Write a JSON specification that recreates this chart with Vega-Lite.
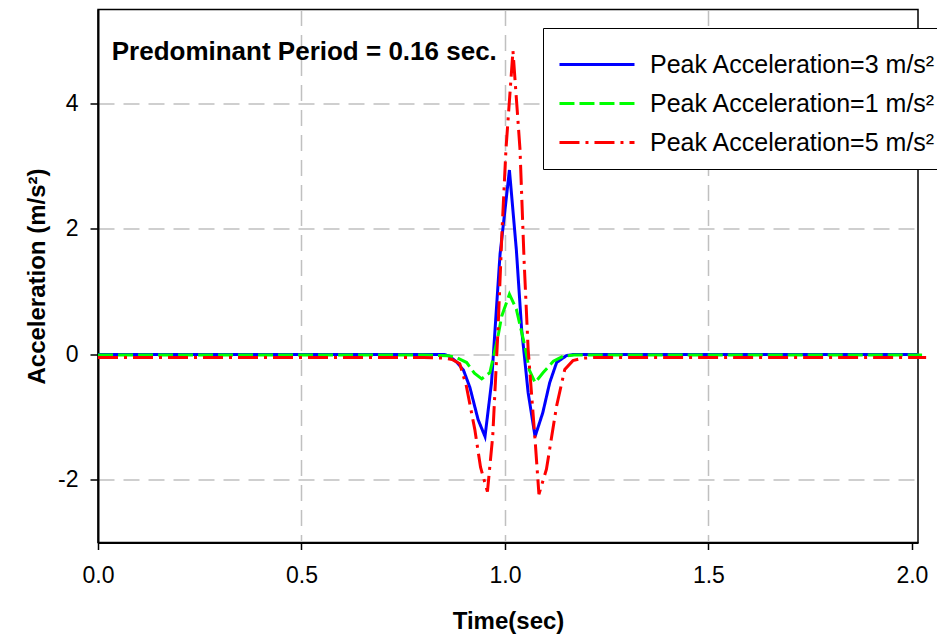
{
  "$schema": "https://vega.github.io/schema/vega-lite/v6.json",
  "autosize": {"type": "none"},
  "width": 820,
  "height": 533,
  "padding": {"left": 98, "top": 9.5, "right": 19, "bottom": 91.5},
  "background": "white",
  "config": {
    "view": {"stroke": "black", "strokeWidth": 1.5},
    "font": "Liberation Sans"
  },
  "layer": [
    {
      "data": {
        "values": [
          {"t": 0, "a": 0, "s": "3"}, {"t": 0.2, "a": 0, "s": "3"}, {"t": 0.4, "a": 0, "s": "3"}, {"t": 0.6, "a": 0, "s": "3"}, {"t": 0.8, "a": 0, "s": "3"}, {"t": 0.85, "a": 0, "s": "3"},
          {"t": 0.864, "a": -0.03, "s": "3"}, {"t": 0.881, "a": -0.12, "s": "3"}, {"t": 0.898, "a": -0.25, "s": "3"}, {"t": 0.914, "a": -0.53, "s": "3"}, {"t": 0.934, "a": -1.04, "s": "3"}, {"t": 0.951, "a": -1.31, "s": "3"}, {"t": 0.967, "a": -0.45, "s": "3"}, {"t": 0.988, "a": 1.6, "s": "3"}, {"t": 1.011, "a": 2.94, "s": "3"}, {"t": 1.028, "a": 1.67, "s": "3"}, {"t": 1.041, "a": 0.4, "s": "3"}, {"t": 1.057, "a": -0.61, "s": "3"}, {"t": 1.074, "a": -1.31, "s": "3"}, {"t": 1.093, "a": -0.93, "s": "3"}, {"t": 1.11, "a": -0.45, "s": "3"}, {"t": 1.127, "a": -0.13, "s": "3"}, {"t": 1.151, "a": -0.02, "s": "3"}, {"t": 1.17, "a": 0, "s": "3"}, {"t": 1.4, "a": 0, "s": "3"}, {"t": 1.6, "a": 0, "s": "3"}, {"t": 1.8, "a": 0, "s": "3"}, {"t": 2.015, "a": 0, "s": "3"},
          {"t": 0, "a": -0.01, "s": "1"}, {"t": 0.4, "a": -0.01, "s": "1"}, {"t": 0.8, "a": -0.01, "s": "1"}, {"t": 0.86, "a": -0.02, "s": "1"}, {"t": 0.881, "a": -0.05, "s": "1"}, {"t": 0.906, "a": -0.13, "s": "1"}, {"t": 0.925, "a": -0.3, "s": "1"}, {"t": 0.943, "a": -0.39, "s": "1"}, {"t": 0.963, "a": -0.29, "s": "1"}, {"t": 0.983, "a": 0.29, "s": "1"}, {"t": 0.992, "a": 0.61, "s": "1"}, {"t": 1.011, "a": 0.96, "s": "1"}, {"t": 1.028, "a": 0.72, "s": "1"}, {"t": 1.049, "a": 0.13, "s": "1"}, {"t": 1.06, "a": -0.25, "s": "1"}, {"t": 1.074, "a": -0.45, "s": "1"}, {"t": 1.094, "a": -0.29, "s": "1"}, {"t": 1.119, "a": -0.11, "s": "1"}, {"t": 1.143, "a": -0.03, "s": "1"}, {"t": 1.17, "a": -0.01, "s": "1"}, {"t": 1.5, "a": -0.01, "s": "1"}, {"t": 2.025, "a": -0.01, "s": "1"},
          {"t": 0, "a": -0.05, "s": "5"}, {"t": 0.4, "a": -0.05, "s": "5"}, {"t": 0.8, "a": -0.05, "s": "5"}, {"t": 0.85, "a": -0.06, "s": "5"}, {"t": 0.87, "a": -0.08, "s": "5"}, {"t": 0.889, "a": -0.15, "s": "5"}, {"t": 0.905, "a": -0.5, "s": "5"}, {"t": 0.926, "a": -1.2, "s": "5"}, {"t": 0.94, "a": -1.8, "s": "5"}, {"t": 0.957, "a": -2.19, "s": "5"}, {"t": 0.97, "a": -1.3, "s": "5"}, {"t": 0.983, "a": 0.4, "s": "5"}, {"t": 0.993, "a": 2.0, "s": "5"}, {"t": 1.0025, "a": 3.27, "s": "5"}, {"t": 1.0197, "a": 4.84, "s": "5"}, {"t": 1.037, "a": 3.27, "s": "5"}, {"t": 1.047, "a": 1.5, "s": "5"}, {"t": 1.057, "a": 0.08, "s": "5"}, {"t": 1.074, "a": -1.36, "s": "5"}, {"t": 1.0835, "a": -2.23, "s": "5"}, {"t": 1.102, "a": -1.83, "s": "5"}, {"t": 1.127, "a": -0.82, "s": "5"}, {"t": 1.147, "a": -0.24, "s": "5"}, {"t": 1.167, "a": -0.1, "s": "5"}, {"t": 1.19, "a": -0.06, "s": "5"}, {"t": 1.22, "a": -0.05, "s": "5"}, {"t": 1.6, "a": -0.05, "s": "5"}, {"t": 2.035, "a": -0.05, "s": "5"}
        ]
      },
      "mark": {"type": "line", "strokeWidth": 3, "strokeCap": "butt", "clip": false},
      "encoding": {
        "x": {
          "field": "t", "type": "quantitative",
          "scale": {"domain": [0, 2.015], "nice": false, "zero": false},
          "axis": {
            "values": [0, 0.5, 1, 1.5, 2], "format": ".1f",
            "title": "Time(sec)", "titleFontSize": 24, "titleFontWeight": "bold", "titleColor": "black", "titlePadding": 22,
            "labelFontSize": 23, "labelColor": "black", "labelPadding": 15, "labelFlush": false,
            "domainColor": "black", "domainWidth": 2,
            "tickColor": "black", "tickSize": 7, "tickWidth": 1.5,
            "grid": true, "gridColor": "#c0c0c0", "gridWidth": 1.5, "gridDash": [16, 9],
            "gridOpacity": {"condition": {"test": "datum.value == 0 || datum.value == 2", "value": 0}, "value": 1}
          }
        },
        "y": {
          "field": "a", "type": "quantitative",
          "scale": {"domain": [-3, 5.5], "nice": false, "zero": false},
          "axis": {
            "values": [-2, 0, 2, 4], "labelExpr": "'' + datum.value",
            "title": "Acceleration (m/s²)", "titleFontSize": 24, "titleFontWeight": "bold", "titleColor": "black", "titlePadding": 8,
            "labelFontSize": 23, "labelColor": "black", "labelPadding": 12,
            "domainColor": "black", "domainWidth": 2,
            "tickColor": "black", "tickSize": 8, "tickWidth": 1.5,
            "grid": true, "gridColor": "#c0c0c0", "gridWidth": 1.5, "gridDash": [16, 9]
          }
        },
        "color": {
          "field": "s", "type": "nominal",
          "scale": {"domain": ["3", "1", "5"], "range": ["#0000ff", "#00ff00", "#ff0000"]},
          "legend": {
            "title": null, "orient": "none", "legendX": 445, "legendY": 18.5,
            "labelExpr": "'Peak Acceleration=' + datum.label + ' m/s²'",
            "strokeColor": "black", "fillColor": "white", "padding": 13,
            "symbolType": "M-0.91,0L2.5,0", "symbolSize": 1936, "symbolStrokeWidth": 3,
            "labelFontSize": 25, "labelColor": "black", "labelLimit": 0, "labelOffset": 47, "rowPadding": 2
          }
        },
        "strokeDash": {
          "field": "s", "type": "nominal",
          "scale": {"domain": ["3", "1", "5"], "range": [[1, 0], [15, 5], [20, 6, 3, 6]]},
          "legend": {
            "title": null, "orient": "none", "legendX": 445, "legendY": 18.5,
            "labelExpr": "'Peak Acceleration=' + datum.label + ' m/s²'",
            "strokeColor": "black", "fillColor": "white", "padding": 13,
            "symbolType": "M-0.91,0L2.5,0", "symbolSize": 1936, "symbolStrokeWidth": 3,
            "labelFontSize": 25, "labelColor": "black", "labelLimit": 0, "labelOffset": 47, "rowPadding": 2
          }
        }
      }
    },
    {
      "data": {"values": [{"t": 0.0337, "a": 4.69, "label": "Predominant Period = 0.16 sec."}]},
      "mark": {"type": "text", "align": "left", "baseline": "alphabetic", "fontSize": 26, "fontWeight": "bold", "color": "black"},
      "encoding": {
        "x": {"field": "t", "type": "quantitative"},
        "y": {"field": "a", "type": "quantitative"},
        "text": {"field": "label"}
      }
    }
  ]
}
